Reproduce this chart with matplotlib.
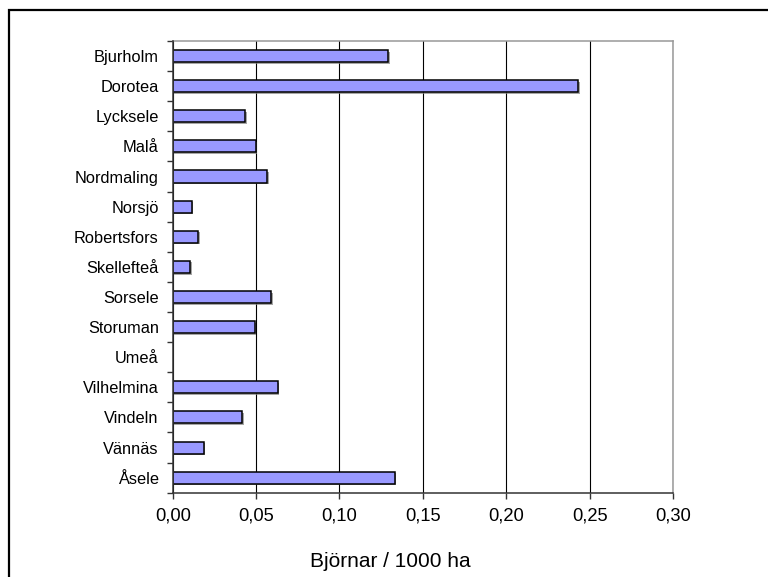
import matplotlib
matplotlib.use("Agg")
import matplotlib.pyplot as plt
import matplotlib.patheffects as pe
from matplotlib.patches import Rectangle
import numpy as np

plt.rcParams['font.family'] = ['Liberation Sans', 'DejaVu Sans']

kommuner = ["Bjurholm", "Dorotea", "Lycksele", "Malå", "Nordmaling", "Norsjö",
            "Robertsfors", "Skellefteå", "Sorsele", "Storuman", "Umeå",
            "Vilhelmina", "Vindeln", "Vännäs", "Åsele"]
bjornar_per_1000ha = [0.1293, 0.2431, 0.0435, 0.0497, 0.0567, 0.0114,
                      0.0153, 0.0104, 0.0590, 0.0491, 0.0, 0.0630,
                      0.0415, 0.0186, 0.1331]
xticks = [0.00, 0.05, 0.10, 0.15, 0.20, 0.25, 0.30]
xtick_labels = ["0,00", "0,05", "0,10", "0,15", "0,20", "0,25", "0,30"]
xlabel = "Björnar / 1000 ha"

fig = plt.figure(figsize=(7.68, 5.77), dpi=100)
ax = fig.add_axes([172.7/768, 1-492.7/577, (673-172.7)/768, (492.7-41)/577])

y = np.arange(len(kommuner))
bars = ax.barh(y, bjornar_per_1000ha, height=0.4, color="#9999FF",
               edgecolor="black", linewidth=1.1, zorder=3)
for b in bars:
    b.set_path_effects([pe.SimplePatchShadow(offset=(1.2, -1.2), shadow_rgbFace="#808080", alpha=0.7),
                        pe.Normal()])

ax.set_ylim(len(kommuner) - 0.5, -0.5)
ax.set_xlim(0, 0.30)
ax.set_yticks(y)
ax.set_yticklabels(kommuner, fontsize=11.8)
ax.set_yticks(np.arange(-0.5, len(kommuner) + 0.5, 1), minor=True)
ax.tick_params(axis='y', which='major', length=0, pad=10)
ax.tick_params(axis='y', which='minor', length=4, width=1, color="#333333", direction='out')

ax.set_xticks(xticks)
ax.set_xticklabels(xtick_labels, fontsize=13.2)
ax.tick_params(axis='x', which='major', length=4, width=1, direction='out', pad=6.5, color="#333333")
ax.set_xlabel(xlabel, fontsize=15)
ax.xaxis.set_label_coords(0.434, -0.132)

ax.grid(axis='x', color='black', linewidth=0.8, zorder=0)
ax.set_axisbelow(True)

for s in ['left', 'bottom']:
    ax.spines[s].set_color('#333333')
    ax.spines[s].set_linewidth(1.1)
    ax.spines[s].set_zorder(4)
for s in ['top', 'right']:
    ax.spines[s].set_color('#999999')
    ax.spines[s].set_linewidth(1.1)

# outer chart frame (left and top edges visible)
frame = Rectangle((8.5/768, -0.05), 1.2, 1 - 9.5/577 + 0.05, transform=fig.transFigure,
                  fill=False, edgecolor='black', linewidth=1.6)
fig.patches.append(frame)

fig.savefig("out.png", dpi=100)
